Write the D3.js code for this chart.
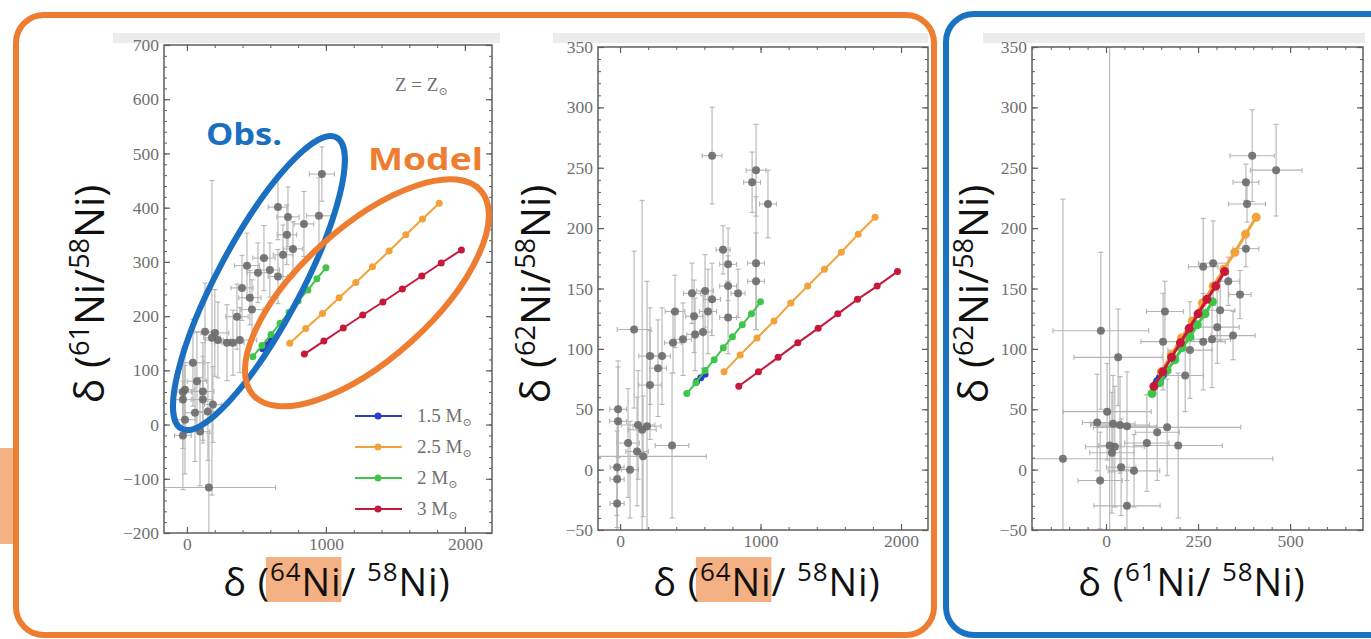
<!DOCTYPE html>
<html>
<head>
<meta charset="utf-8">
<script src="https://cdn.jsdelivr.net/npm/d3@7"></script>
<style>
body { margin: 0; background: #fff; }
</style>
</head>
<body>
<div id="chart"></div>
<script>
// ---------------- data ----------------
// model tracks: delta values (permil) for 64Ni, 61Ni, 62Ni relative to 58Ni
const model15_d64 = [545, 575, 605]
const model15_d61 = [140, 147, 154]
const model15_d62 = [73, 76, 79]

const model25_d64 = [740, 855, 975, 1095, 1215, 1335, 1455, 1575, 1695, 1815]
const model25_d61 = [150, 177, 205, 234, 262, 291, 320, 350, 379, 408]
const model25_d62 = [81, 95, 109, 123, 138, 152, 166, 180, 195, 209]

const model2_d64 = [475, 540, 605, 670, 735, 800, 870, 935, 1000]
const model2_d61 = [125, 146, 166, 187, 207, 228, 248, 269, 289]
const model2_d62 = [63, 72, 82, 91, 101, 110, 120, 129, 139]

const model3_d64 = [845, 985, 1125, 1265, 1410, 1550, 1690, 1830, 1975]
const model3_d61 = [130, 154, 178, 202, 226, 250, 274, 298, 322]
const model3_d62 = [69, 81, 93, 105, 117, 129, 141, 152, 164]

const massLabels = ["1.5", "2.5", "2", "3"]

// grains: [x, y, xerr, yerr]
const obs64vs61 = [
    [971, 462, 90, 50], [655, 401, 70, 60], [727, 383, 80, 55], [842, 370, 70, 60],
    [950, 385, 90, 70], [719, 350, 70, 55], [763, 324, 70, 50], [554, 307, 80, 60],
    [691, 313, 70, 55], [432, 293, 90, 60], [511, 280, 80, 55], [597, 285, 70, 50],
    [655, 273, 70, 50], [396, 252, 80, 60], [453, 234, 80, 50], [360, 199, 80, 60],
    [468, 212, 80, 55], [201, 169, 100, 80], [223, 156, 90, 70], [288, 151, 90, 70],
    [381, 156, 120, 60], [43, 114, 80, 80], [72, 80, 70, 90], [-14, 64, 70, 80],
    [-29, 60, 60, 80], [115, 61, 80, 90], [-29, 46, 60, 90], [115, 46, 70, 80],
    [58, 22, 70, 90], [187, 37, 60, 70], [151, 24, 80, 90], [-14, 9, 80, 100],
    [-29, -20, 60, 100], [94, -13, 70, 100], [158, -116, 480, 100], [180, 160, 60, 290],
    [130, 171, 80, 90], [331, 151, 80, 60]
]

const obs64vs62 = [
    [655, 260, 70, 40], [968, 248, 70, 38], [940, 238, 60, 25], [1053, 220, 60, 28],
    [733, 182, 50, 20], [769, 170, 60, 30], [769, 152, 60, 25], [968, 171, 60, 55],
    [968, 156, 60, 40], [840, 146, 50, 20], [512, 146, 60, 25], [605, 148, 60, 30],
    [655, 141, 60, 30], [391, 131, 70, 30], [527, 127, 60, 30], [626, 131, 60, 35],
    [769, 126, 60, 30], [534, 112, 60, 30], [591, 114, 60, 30], [448, 108, 60, 30],
    [377, 105, 60, 25], [100, 116, 120, 65], [213, 94, 80, 40], [299, 94, 60, 40],
    [270, 84, 60, 40], [213, 70, 80, 45], [-14, 50, 60, 40], [-14, 40, 60, 45],
    [128, 37, 120, 45], [192, 36, 100, 120], [157, 33, 100, 190], [57, 22, 80, 45],
    [121, 15, 80, 45], [164, 11, 450, 50], [370, 20, 120, 60], [-21, 2, 50, 40],
    [71, 0, 60, 40], [-21, -8, 50, 40], [-21, -28, 50, 30]
]

const obs61vs62 = [
    [397, 260, 60, 38], [462, 248, 70, 38], [380, 238, 35, 15], [383, 220, 50, 15],
    [380, 183, 35, 15], [291, 171, 40, 35], [332, 156, 30, 20], [364, 145, 30, 20],
    [264, 168, 40, 40], [160, 131, 50, 25], [310, 132, 40, 25], [-14, 115, 130, 65],
    [33, 93, 120, 40], [345, 111, 60, 20], [288, 108, 50, 40], [302, 118, 60, 30],
    [264, 106, 60, 40], [228, 99, 60, 40], [215, 78, 50, 30], [155, 106, 60, 40],
    [3, 48, 120, 40], [-24, 39, 40, 40], [19, 38, 60, 40], [38, 37, 80, 40],
    [57, 36, 80, 45], [139, 31, 60, 40], [166, 35, 200, 40], [111, 22, 60, 40],
    [196, 20, 120, 60], [24, 19, 80, 50], [16, 14, 60, 50], [-117, 9, 570, 215],
    [41, 2, 40, 40], [76, -1, 70, 30], [-16, -9, 60, 40], [57, -30, 90, 30],
    [10, 20, 30, 330]
]

const xTicksWide = [0, 1000, 2000]
const xTicksNarrow = [0, 250, 500]
const yTicks61 = [-200, -100, 0, 100, 200, 300, 400, 500, 600, 700]
const yTicks62 = [-50, 0, 50, 100, 150, 200, 250, 300, 350]

// ---------------- drawing ----------------
const colors = ["#2b3fc4", "#f2a23a", "#3fc64a", "#c8183a"]
const tickFont = "'Liberation Serif', 'DejaVu Serif', serif"
const titleFont = "'Open Sans', 'Noto Sans', sans-serif"

function zip(a, b) {
    return a.map(function (v, i) { return [v, b[i]] })
}

const models64vs61 = [zip(model15_d64, model15_d61), zip(model25_d64, model25_d61), zip(model2_d64, model2_d61), zip(model3_d64, model3_d61)]
const models64vs62 = [zip(model15_d64, model15_d62), zip(model25_d64, model25_d62), zip(model2_d64, model2_d62), zip(model3_d64, model3_d62)]
const models61vs62 = [zip(model15_d61, model15_d62), zip(model25_d61, model25_d62), zip(model2_d61, model2_d62), zip(model3_d61, model3_d62)]

let svg = d3.select("#chart")
    .append("svg")
    .attr("width", 1371)
    .attr("height", 639)
    .style("font-family", tickFont)

// slide frames
svg.append("rect").attr("x", 0).attr("y", 448).attr("width", 14).attr("height", 96).attr("fill", "#f4b183")
svg.append("rect").attr("x", 16).attr("y", 15).attr("width", 918).attr("height", 620)
    .attr("rx", 28).attr("fill", "none").attr("stroke", "#ed7d31").attr("stroke-width", 6)
svg.append("rect").attr("x", 946).attr("y", 14).attr("width", 470).attr("height", 621)
    .attr("rx", 28).attr("fill", "none").attr("stroke", "#1a72c2").attr("stroke-width", 6)

let highlightLayer = svg.append("g")

function drawPanel(p) {
    let g = svg.append("g")
    let x = d3.scaleLinear().domain(p.xDomain).range([p.left, p.right])
    let y = d3.scaleLinear().domain(p.yDomain).range([p.bottom, p.top])

    // light strip above the plot (part of the pasted figure)
    g.append("rect").attr("x", p.strip[0]).attr("y", 33).attr("width", p.strip[1] - p.strip[0]).attr("height", 10)
        .attr("fill", "#ececec")
    g.append("rect").attr("x", p.left).attr("y", p.top).attr("width", p.right - p.left).attr("height", p.bottom - p.top)
        .attr("fill", "#fff")

    let clipId = "clip-" + p.id
    svg.append("clipPath").attr("id", clipId).append("rect")
        .attr("x", p.left).attr("y", p.top).attr("width", p.right - p.left).attr("height", p.bottom - p.top)

    let inner = g.append("g").attr("clip-path", "url(#" + clipId + ")")

    // error bars
    let cap = 2.5
    let bars = inner.append("g").attr("stroke", "#b4b4b4").attr("stroke-width", 1.1)
    bars.selectAll(".xe").data(p.obs).join("line")
        .attr("x1", d => x(d[0] - d[2])).attr("x2", d => x(d[0] + d[2]))
        .attr("y1", d => y(d[1])).attr("y2", d => y(d[1]))
    bars.selectAll(".ye").data(p.obs).join("line")
        .attr("x1", d => x(d[0])).attr("x2", d => x(d[0]))
        .attr("y1", d => y(d[1] - d[3])).attr("y2", d => y(d[1] + d[3]))
    bars.selectAll(".cx").data(p.obs.flatMap(d => [[d[0] - d[2], d[1]], [d[0] + d[2], d[1]]])).join("line")
        .attr("x1", d => x(d[0])).attr("x2", d => x(d[0]))
        .attr("y1", d => y(d[1]) - cap).attr("y2", d => y(d[1]) + cap)
    bars.selectAll(".cy").data(p.obs.flatMap(d => [[d[0], d[1] - d[3]], [d[0], d[1] + d[3]]])).join("line")
        .attr("x1", d => x(d[0]) - cap).attr("x2", d => x(d[0]) + cap)
        .attr("y1", d => y(d[1])).attr("y2", d => y(d[1]))

    inner.append("g").selectAll("circle").data(p.obs).join("circle")
        .attr("cx", d => x(d[0])).attr("cy", d => y(d[1])).attr("r", 4)
        .attr("fill", "#6a6a6a").attr("fill-opacity", 0.9)

    // model tracks
    let line = d3.line().x(d => x(d[0])).y(d => y(d[1]))
    p.models.forEach(function (track, i) {
        inner.append("path").datum(track)
            .attr("fill", "none").attr("stroke", colors[i]).attr("stroke-width", p.lineW)
            .attr("d", line)
        inner.append("g").selectAll("circle").data(track).join("circle")
            .attr("cx", d => x(d[0])).attr("cy", d => y(d[1])).attr("r", p.dotR)
            .attr("fill", colors[i])
    })

    // frame + inward ticks on all sides
    g.append("rect").attr("x", p.left).attr("y", p.top).attr("width", p.right - p.left).attr("height", p.bottom - p.top)
        .attr("fill", "none").attr("stroke", "#5e5e5e").attr("stroke-width", 1.5)

    let axes = [
        [d3.axisBottom(x), "translate(0," + p.bottom + ")", p.xTicks, p.xMinor, true],
        [d3.axisTop(x), "translate(0," + p.top + ")", p.xTicks, p.xMinor, false],
        [d3.axisLeft(y), "translate(" + p.left + ",0)", p.yTicks, p.yMinor, true],
        [d3.axisRight(y), "translate(" + p.right + ",0)", p.yTicks, p.yMinor, false]
    ]
    axes.forEach(function (a) {
        let minor = g.append("g").attr("transform", a[1])
            .call(a[0].tickValues(a[3]).tickSize(-3).tickFormat(""))
        minor.select(".domain").remove()
        minor.selectAll("line").attr("stroke", "#5e5e5e")
        let major = g.append("g").attr("transform", a[1])
            .call(a[0].tickValues(a[2]).tickSize(-6).tickPadding(5)
                .tickFormat(a[4] ? (d => d < 0 ? "\u2212" + Math.abs(d) : d) : ""))
        major.select(".domain").remove()
        major.selectAll("line").attr("stroke", "#5e5e5e").attr("stroke-width", 1.2)
        major.selectAll("text").attr("font-family", tickFont).attr("font-size", 17.5).attr("fill", "#707070")
    })

    // axis titles
    let xt = svg.append("text")
        .attr("x", p.xTitleX).attr("y", 596)
        .attr("text-anchor", "middle")
        .attr("font-family", titleFont).attr("font-size", 38).attr("letter-spacing", 0.9).attr("fill", "#111")
    xt.append("tspan").text("\u03b4 (")
    xt.append("tspan").text(p.xIso).attr("font-size", 26).attr("dy", -15)
    xt.append("tspan").text("Ni").attr("dy", 15)
    xt.append("tspan").text("/ ")
    xt.append("tspan").text("58").attr("font-size", 26).attr("dy", -15)
    xt.append("tspan").text("Ni)").attr("dy", 15)

    if (p.highlight) {
        let node = xt.node()
        let x0 = node.getStartPositionOfChar(3).x
        let x1 = node.getEndPositionOfChar(6).x
        highlightLayer.append("rect")
            .attr("x", x0 - 4).attr("y", 557).attr("width", x1 - x0 + 4).attr("height", 45)
            .attr("fill", "#f4b183")
    }

    let yt = svg.append("text")
        .attr("transform", "translate(" + p.yTitleX + "," + 294 + ") rotate(-90)")
        .attr("text-anchor", "middle")
        .attr("font-family", titleFont).attr("font-size", 41).attr("fill", "#111")
    yt.append("tspan").text("\u03b4 (")
    yt.append("tspan").text(p.yIso).attr("font-size", 27).attr("dy", -15)
    yt.append("tspan").text("Ni/").attr("dy", 15)
    yt.append("tspan").text("58").attr("font-size", 27).attr("dy", -15)
    yt.append("tspan").text("Ni)").attr("dy", 15)

    return { g: g, x: x, y: y }
}

let panelA = drawPanel({
    id: "a", left: 164, right: 492, top: 45, bottom: 533,
    xDomain: [-165, 2195], yDomain: [-200, 700],
    xTicks: xTicksWide, xMinor: d3.range(0, 2001, 200),
    yTicks: yTicks61, yMinor: d3.range(-200, 701, 20),
    obs: obs64vs61, models: models64vs61, dotR: 3.5, lineW: 2,
    strip: [113, 500], xTitleX: 337, yTitleX: 104, xIso: "64", yIso: "61", highlight: true
})

let panelB = drawPanel({
    id: "b", left: 598, right: 928, top: 47, bottom: 530,
    xDomain: [-157, 2192], yDomain: [-50, 350],
    xTicks: xTicksWide, xMinor: d3.range(0, 2001, 200),
    yTicks: yTicks62, yMinor: d3.range(-50, 351, 10),
    obs: obs64vs62, models: models64vs62, dotR: 3.5, lineW: 2,
    strip: [553, 928], xTitleX: 767, yTitleX: 550, xIso: "64", yIso: "62", highlight: true
})

let panelC = drawPanel({
    id: "c", left: 1032, right: 1363, top: 47, bottom: 530,
    xDomain: [-201, 698], yDomain: [-50, 350],
    xTicks: xTicksNarrow, xMinor: d3.range(-200, 651, 50),
    yTicks: yTicks62, yMinor: d3.range(-50, 351, 10),
    obs: obs61vs62, models: models61vs62, dotR: 4.5, lineW: 3,
    strip: [983, 1365], xTitleX: 1192, yTitleX: 988, xIso: "61", yIso: "62", highlight: false
})

// annotations on the first panel
let xa = panelA.x, ya = panelA.y
svg.append("ellipse")
    .attr("transform", "translate(" + xa(518) + "," + ya(261) + ") rotate(-62)")
    .attr("rx", 165).attr("ry", 42)
    .attr("fill", "none").attr("stroke", "#1a6fc0").attr("stroke-width", 6)
svg.append("ellipse")
    .attr("transform", "translate(" + xa(1295) + "," + ya(243) + ") rotate(-42)")
    .attr("rx", 153).attr("ry", 66)
    .attr("fill", "none").attr("stroke", "#ed7d31").attr("stroke-width", 6)

svg.append("text").attr("x", 206).attr("y", 145).text("Obs.")
    .attr("font-family", titleFont).attr("font-weight", "bold").attr("font-size", 31)
    .attr("fill", "#1a6fc0").attr("textLength", 76).attr("lengthAdjust", "spacingAndGlyphs")
svg.append("text").attr("x", 368).attr("y", 170).text("Model")
    .attr("font-family", titleFont).attr("font-weight", "bold").attr("font-size", 31)
    .attr("fill", "#ed7d31").attr("textLength", 115).attr("lengthAdjust", "spacingAndGlyphs")

let zt = svg.append("text").attr("x", 395).attr("y", 91)
    .attr("font-family", tickFont).attr("font-size", 19).attr("fill", "#707070")
zt.append("tspan").text("Z = Z")
zt.append("tspan").text("\u2299").attr("font-size", 11).attr("dy", 4)

// legend
let legend = svg.append("g")
massLabels.forEach(function (m, i) {
    let ly = 416 + i * 31
    legend.append("line").attr("x1", 355).attr("x2", 402).attr("y1", ly).attr("y2", ly)
        .attr("stroke", colors[i]).attr("stroke-width", 2)
    legend.append("circle").attr("cx", 378).attr("cy", ly).attr("r", 3.5).attr("fill", colors[i])
    let t = legend.append("text").attr("x", 417).attr("y", ly + 6)
        .attr("font-family", tickFont).attr("font-size", 19).attr("fill", "#707070")
    t.append("tspan").text(m + " M")
    t.append("tspan").text("\u2299").attr("font-size", 11).attr("dy", 4)
})
</script>
</body>
</html>
